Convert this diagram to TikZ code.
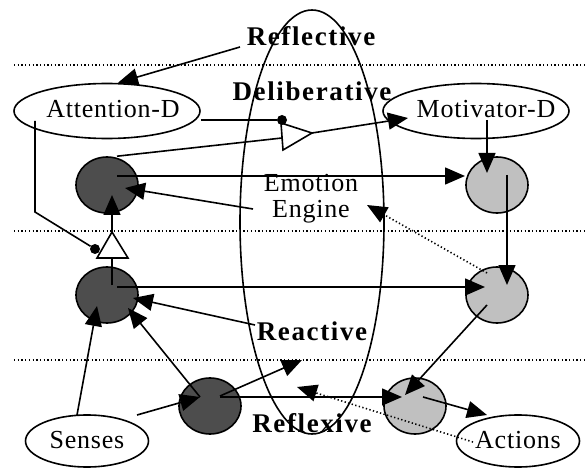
\documentclass[tikz,border=0pt]{standalone}
\usepackage{fontspec}
\setmainfont{Liberation Serif}
\usetikzlibrary{shapes.geometric,arrows.meta,calc}
\definecolor{darkg}{RGB}{77,77,77}
\definecolor{lightg}{RGB}{192,192,192}
\newcommand\lblreg{\fontsize{26}{26}\selectfont\addfontfeatures{LetterSpace=3}}
\newcommand\lblbold{\fontsize{27}{27}\selectfont\bfseries\addfontfeatures{LetterSpace=6}}
\tikzset{
  ln/.style={line width=1.6pt},
  arr/.style={ln, -{Triangle[length=20pt,width=17pt]}},
  dotarr/.style={arr, dash pattern=on 1.3pt off 2.4pt},
  sepline/.style={line width=1.3pt, dash pattern=on 1.3pt off 2.4pt},
  oval/.style={draw, ellipse, line width=1.6pt, inner sep=0pt, minimum width=186pt, minimum height=55pt},
  smalloval/.style={draw, ellipse, line width=1.6pt, inner sep=0pt, minimum width=123pt, minimum height=52pt},
  darknode/.style={draw, ellipse, line width=1.6pt, fill=darkg, inner sep=0pt, minimum width=62pt, minimum height=56pt},
  lightnode/.style={draw, ellipse, line width=1.6pt, fill=lightg, inner sep=0pt, minimum width=62pt, minimum height=56pt},
  layer/.style={font=\lblbold, inner sep=0pt},
  gate/.style={ln, fill=white, line join=miter},
  blob/.style={circle, fill=black, inner sep=0pt, minimum size=10pt},
}
\begin{document}
\begin{tikzpicture}[x=1pt,y=-1pt]
\useasboundingbox (0,0) rectangle (587,468);
% layer separators
\coordinate (s1a) at (14,65);  \coordinate (s1b) at (587,65);
\coordinate (s2a) at (14,231); \coordinate (s2b) at (587,231);
\coordinate (s3a) at (14,360); \coordinate (s3b) at (587,360);
\draw[sepline] (s1a) -- (s1b);
\draw[sepline] (s2a) -- (s2b);
\draw[sepline] (s3a) -- (s3b);
% layer labels
\node[layer] (refl) at (311,36) {Reflective};
\node[layer] (delib) at (312,91) {Deliberative};
\node[layer] (react) at (312,331) {Reactive};
\node[layer] (reflx) at (312,423) {Reflexive};
\node[font=\lblreg, align=center, inner sep=0pt] (emo) at (311,199) {Emotion\\Engine};
% big ellipse
\node[draw, ellipse, line width=1.6pt, inner sep=0pt, minimum width=144pt, minimum height=424pt] (ring) at (312,222) {};
% ovals
\node[oval, label={[font=\lblreg, xshift=6pt, yshift=2pt]center:Attention-D}] (attd) at (107,111) {};
\node[oval, label={[font=\lblreg, xshift=10pt, yshift=2pt]center:Motivator-D}] (motd) at (476,111) {};
\node[smalloval, label={[font=\lblreg, yshift=1pt]center:Senses}] (senses) at (87,441) {};
\node[smalloval, label={[font=\lblreg, yshift=1pt]center:Actions}] (actions) at (518,441) {};
% circles
\node[darknode] (d1) at (107,185) {};
\node[darknode] (d2) at (107,295) {};
\node[darknode] (d3) at (210,406) {};
\node[lightnode] (l1) at (497,185) {};
\node[lightnode] (l2) at (497,295) {};
\node[lightnode] (l3) at (415,406) {};
% gate geometry
\coordinate (t1a) at (281,123);
\coordinate (t1b) at (283,150);
\coordinate (t1tip) at (312,133);
\coordinate (t1in) at (282,138);
\coordinate (t2apex) at (112,232);
\coordinate (t2l) at (97,258);
\coordinate (t2r) at (128,258);
\coordinate (t2base) at (112,258);
\coordinate (up) at (302,360);
\coordinate (rx) at (297,387);
% connectors
\draw[arr] ($(refl.center)+(-71,11)$) -- ($(attd.north)+(11,0)$);
\draw[ln] ($(d1.north)+(10,0)$) -- (t1in);
\draw[arr] (t1tip) -- ($(motd.center)+(-68,7)$);
\draw[arr] ($(d1.center)+(10,-9)$) -- ($(l1.center)+(-32,-9)$);
\draw[arr] ($(emo.center)+(-58,10)$) -- ($(d1.center)+(18,3)$);
\draw[arr] ($(motd.center)+(11,9)$) -- ($(l1.center)+(-10,-12)$);
\draw[arr] ($(l1.center)+(10,-10)$) -- ($(l2.center)+(10,-10)$);
\draw[dotarr] ($(l2.center)+(-10,-22)$) -- ($(emo.center)+(56,6)$);
\draw[arr] ($(d2.center)+(10,-8)$) -- ($(l2.center)+(-12,-8)$);
\draw[arr] ($(react.center)+(-57,-6)$) -- ($(d2.center)+(26,3)$);
\draw[arr] ($(senses.center)+(-10,-26)$) -- ($(d2.center)+(-10,11)$);
\draw[arr] ($(d3.center)+(-10,-9)$) -- ($(d2.center)+(21,13)$);
\draw[arr] ($(senses.center)+(50,-26)$) -- ($(d3.center)+(-10,-9)$);
\draw[arr] ($(d3.center)+(10,-10)$) -- (up);
\draw[arr] ($(d3.center)+(10,-9)$) -- ($(l3.center)+(-13,-9)$);
\draw[arr] ($(l2.center)+(-10,10)$) -- ($(l3.center)+(-10,-11)$);
\draw[arr] ($(l3.center)+(8,-9)$) -- ($(actions.center)+(-31,-26)$);
\draw[dotarr] ($(actions.center)+(-45,1)$) -- (rx);
% lower gate path
\draw[ln] ($(d2.center)+(5,-10)$) -- (t2base);
\draw[arr] (t2apex) -- ($(d1.center)+(5,10)$);
% gates
\draw[gate] (t1a) -- (t1b) -- (t1tip) -- cycle;
\draw[gate] (t2apex) -- (t2l) -- (t2r) -- cycle;
% inhibitory links from Attention-D
\node[blob] (dot1) at (282,120) {};
\node[blob] (dot2) at (95,249) {};
\draw[ln] (attd.east |- dot1) -- (dot1);
\draw[ln] ($(attd.center)+(-72,10)$) -- ++(0,91) -- (dot2);
\end{tikzpicture}
\end{document}
